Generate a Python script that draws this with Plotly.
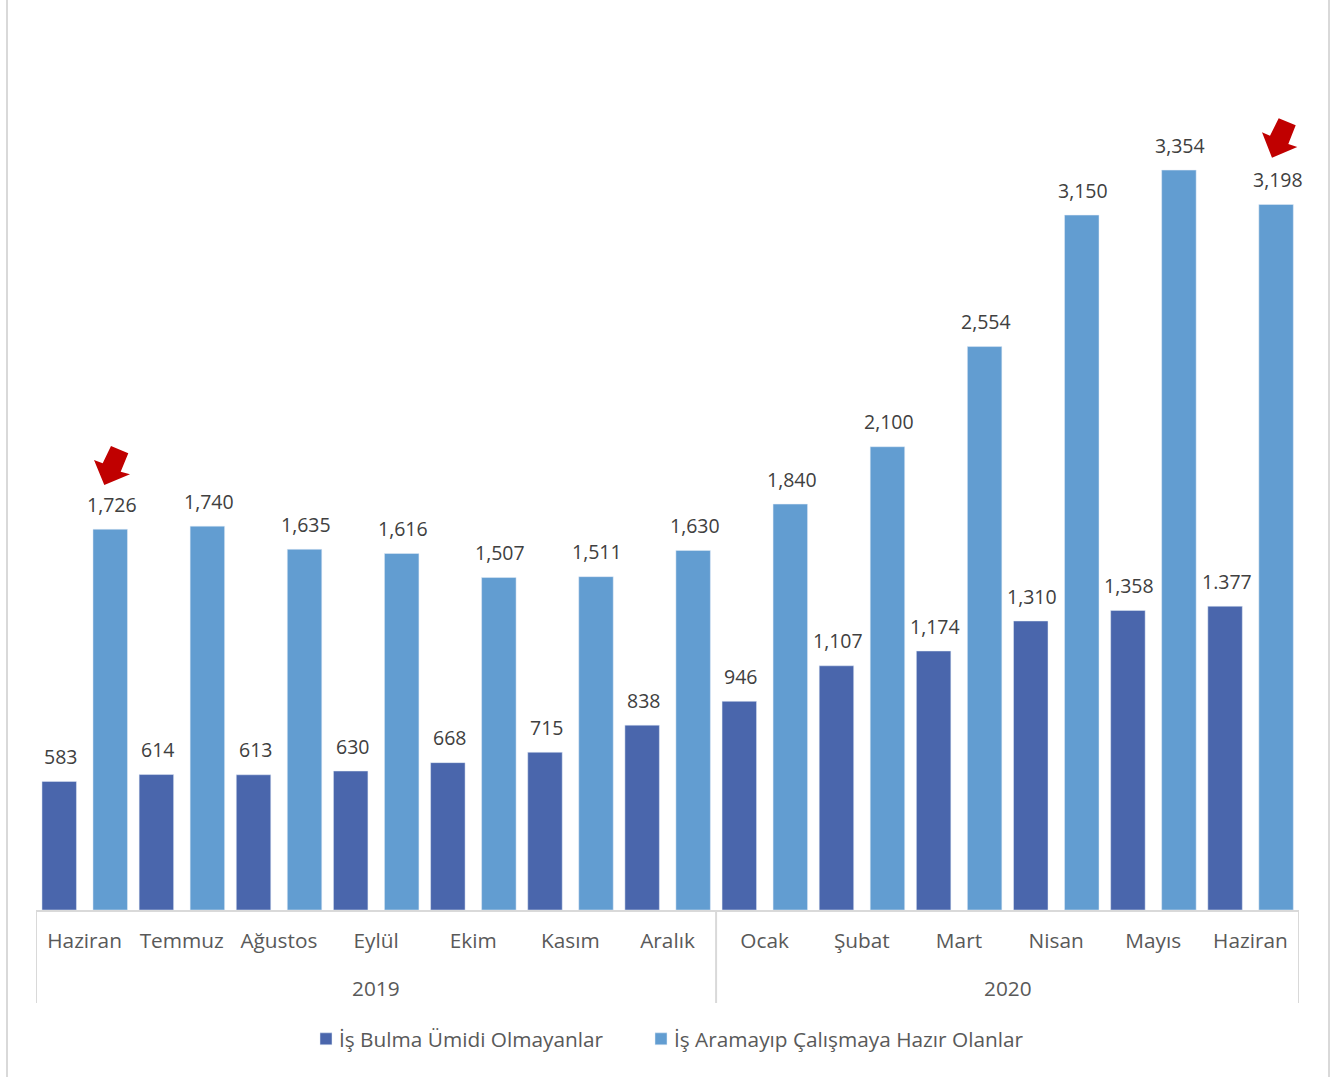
import plotly.graph_objects as go

months = ["Haziran", "Temmuz", "Ağustos", "Eylül", "Ekim", "Kasım", "Aralık",
          "Ocak", "Şubat", "Mart", "Nisan", "Mayıs", "Haziran"]
year_names = ["2019", "2020"]
umutsuz = [583, 614, 613, 630, 668, 715, 838, 946, 1107, 1174, 1310, 1358, 1377]
hazir = [1726, 1740, 1635, 1616, 1507, 1511, 1630, 1840, 2100, 2554, 3150, 3354, 3198]
umutsuz_labels = ["583", "614", "613", "630", "668", "715", "838", "946",
                  "1,107", "1,174", "1,310", "1,358", "1.377"]
hazir_labels = ["1,726", "1,740", "1,635", "1,616", "1,507", "1,511", "1,630",
                "1,840", "2,100", "2,554", "3,150", "3,354", "3,198"]
name_a = "İş Bulma Ümidi Olmayanlar"
name_b = "İş Aramayıp Çalışmaya Hazır Olanlar"

W, H = 1341, 1077
L, R, T, B = 36, 1299, 60, 910
PW, PH = R - L, B - T
FONT = "Open Sans"
LABEL_SIZE = 19.5
AXIS_SIZE = 20.8
GREY = "#D9D9D9"
BAR_W = 0.355
OFF_A, OFF_B = -0.4385, 0.0865


def fx(p):
    return (p - L) / PW


def fy(p):
    return (B - p) / PH


xs = list(range(len(months)))
fig = go.Figure()
fig.add_bar(x=xs, y=umutsuz, name=name_a, marker_color="#4A66AC",
            width=BAR_W, offset=OFF_A, customdata=months, legendwidth=290,
            hovertemplate="%{customdata}: %{y}<extra></extra>")
fig.add_bar(x=xs, y=hazir, name=name_b, marker_color="#629DD1",
            width=BAR_W, offset=OFF_B, customdata=months, legendwidth=370,
            hovertemplate="%{customdata}: %{y}<extra></extra>")

for vals, labels, off in ((umutsuz, umutsuz_labels, OFF_A), (hazir, hazir_labels, OFF_B)):
    for i, (v, t) in enumerate(zip(vals, labels)):
        fig.add_annotation(x=i + off + BAR_W / 2, y=v, text=t, xref="x", yref="y",
                           showarrow=False, xanchor="center", yanchor="middle",
                           yshift=25, xshift=1.5,
                           font=dict(family=FONT, size=LABEL_SIZE, color="#404040"))

# year labels and dividers of the two-level axis
for label, cx in zip(year_names, (3, 9.5)):
    fig.add_annotation(x=cx, y=fy(988), text=label, xref="x", yref="paper", showarrow=False,
                       xanchor="center", yanchor="middle",
                       font=dict(family=FONT, size=AXIS_SIZE, color="#595959"))
for cx in (-0.5, 6.5, 12.5):
    fig.add_shape(type="line", xref="x", yref="paper", x0=cx, x1=cx, y0=0, y1=fy(1003),
                  line=dict(color=GREY, width=2))


def px_path(pts):
    return "M" + " L".join(f"{fx(a):.5f},{fy(b):.5f}" for a, b in pts) + " Z"


arrows = [
    [(111, 446), (128.3, 453.3), (120.7, 471.7), (130, 474.3), (104.3, 485), (94, 460), (102.7, 463.3)],
    [(1278.7, 118.3), (1295.7, 125.3), (1288.3, 144), (1297.3, 147), (1272, 157.7), (1262, 132.3), (1270, 135.7)],
]
for a in arrows:
    fig.add_shape(type="path", path=px_path(a), xref="paper", yref="paper",
                  fillcolor="#C00000", line_width=0)

# outer chart frame (left and right edges)
for p in (7, 1329):
    fig.add_shape(type="line", xref="paper", yref="paper", x0=fx(p), x1=fx(p),
                  y0=fy(H), y1=fy(0), line=dict(color=GREY, width=2))

fig.update_layout(
    width=W, height=H, autosize=False,
    margin=dict(l=L, r=W - R, t=T, b=H - B, pad=0),
    paper_bgcolor="white", plot_bgcolor="white",
    barmode="overlay",
    font=dict(family=FONT, size=AXIS_SIZE, color="#595959"),
    legend=dict(orientation="h", x=fx(299), xanchor="left", y=-0.128, yanchor="top",
                font=dict(family=FONT, size=AXIS_SIZE, color="#595959"),
                traceorder="normal"),
    xaxis=dict(range=[-0.5, 12.5], tickmode="array", tickvals=xs, ticktext=months,
               showline=True, linecolor=GREY, linewidth=2,
               ticks="outside", ticklen=11, tickcolor="rgba(0,0,0,0)",
               tickfont=dict(family=FONT, size=AXIS_SIZE, color="#595959"),
               showgrid=False, zeroline=False, fixedrange=True),
    yaxis=dict(visible=False, range=[0, 3853], fixedrange=True),
)

fig.write_html("out.html", config={"displayModeBar": False},
               post_script="document.body.style.margin='0';document.body.style.overflow='hidden';"
                           "document.querySelectorAll('.legend g.legendpoints').forEach("
                           "g=>g.setAttribute('transform','translate(7,0)'));")
